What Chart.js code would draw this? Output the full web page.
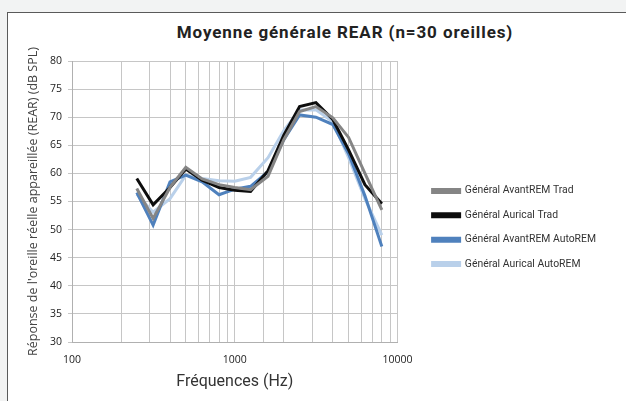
<!DOCTYPE html>
<html lang="fr">
<head>
<meta charset="utf-8">
<title>Moyenne générale REAR</title>
<script src="https://cdn.jsdelivr.net/npm/chart.js@4"></script>
<style>
  html, body { margin: 0; padding: 0; }
  body { width: 626px; height: 401px; background: #f2f3f3; overflow: hidden; position: relative; }
  #frame { position: absolute; left: 7px; top: 12px; width: 700px; height: 420px; background: #fff; border: 1px solid #5a5a5a; }
  #title { position: absolute; left: 0; width: 690px; top: 22px; text-align: center;
           font: bold 17px Roboto, sans-serif; letter-spacing: 0.9px; color: #222; }
  #wrap { position: absolute; left: 0; top: 0; width: 626px; height: 401px; }
</style>
</head>
<body>
<div id="frame"></div>
<div id="title">Moyenne générale REAR (n=30 oreilles)</div>
<div id="wrap"><canvas id="chart" width="626" height="401"></canvas></div>
<script>
"use strict";

// Third-octave frequencies (Hz) and mean REAR values (dB SPL).
const freqs = [250, 315, 400, 500, 630, 800, 1000, 1250, 1600, 2000, 2500, 3150, 4000, 5000, 6300, 8000];
const avantRemTrad = [57.3, 52.0, 57.5, 61.1, 59.0, 58.0, 57.5, 57.1, 59.5, 66.0, 71.0, 71.9, 69.9, 66.4, 60.0, 53.5];
const auricalTrad = [59.1, 54.4, 57.5, 60.8, 58.8, 57.5, 57.0, 56.8, 60.5, 66.8, 71.9, 72.6, 69.6, 64.2, 58.0, 54.6];
const avantRemAuto = [56.6, 50.8, 58.5, 59.7, 58.5, 56.2, 57.2, 57.7, 60.3, 66.0, 70.4, 70.0, 68.7, 63.5, 56.0, 47.0];
const auricalAuto = [56.3, 53.1, 55.5, 59.7, 59.1, 58.7, 58.6, 59.3, 62.8, 67.6, 71.3, 71.3, 69.2, 62.8, 55.5, 49.0];
const xLabels = [100, 1000, 10000];

const series = [
  { label: "Général AvantREM Trad", values: avantRemTrad, color: "#858585" },
  { label: "Général Aurical Trad", values: auricalTrad, color: "#0d0d0d" },
  { label: "Général AvantREM AutoREM", values: avantRemAuto, color: "#4f81bd" },
  { label: "Général Aurical AutoREM", values: auricalAuto, color: "#b9d0ea" },
];

const grid = "#c6c6c6";
const tickFont = { family: "'Open Sans', sans-serif", size: 10.5 };

new Chart(document.getElementById("chart"), {
  type: "line",
  data: {
    datasets: series.map((s) => ({
      label: s.label,
      data: freqs.map((f, i) => ({ x: f, y: s.values[i] })),
      borderColor: s.color,
      backgroundColor: s.color,
      borderWidth: 3,
      pointRadius: 0,
      tension: 0,
    })),
  },
  options: {
    responsive: false,
    animation: false,
    devicePixelRatio: 1,
    layout: { padding: { left: 22, top: 61, right: 20, bottom: 7 } },
    plugins: {
      tooltip: { enabled: false },
      legend: {
        position: "right",
        align: "center",
        maxWidth: 188,
        labels: {
          boxWidth: 27, boxHeight: 3, padding: 14,
          color: "#333", font: { family: "Roboto, sans-serif", size: 10.4 },
        },
      },
    },
    scales: {
      x: {
        type: "logarithmic",
        min: 100, max: 10000,
        grid: { color: grid, drawTicks: false },
        border: { color: "#b0b0b0" },
        ticks: {
          autoSkip: false, maxRotation: 0, padding: 12,
          color: "#222", font: tickFont,
          callback: (v) => (xLabels.includes(v) ? String(v) : ""),
        },
        title: {
          display: true, text: "Fréquences (Hz)", color: "#333",
          font: { family: "Roboto, sans-serif", size: 16 }, padding: 2,
        },
        afterFit: (s) => { s.height = 52; },
      },
      y: {
        min: 30, max: 80,
        grid: { color: grid, tickLength: 4 },
        border: { color: "#b0b0b0" },
        ticks: { stepSize: 5, padding: 6, color: "#222", font: tickFont },
        title: {
          display: true, text: "Réponse de l'oreille réelle appareillée (REAR) (dB SPL)",
          color: "#444", font: { family: "'Open Sans', sans-serif", size: 12.5 }, padding: 4,
        },
        afterFit: (s) => { s.width = 50; },
      },
      // blank axis: keeps a gap between the plot and the legend
      gap: {
        position: "right", display: true,
        grid: { display: false }, border: { display: false },
        ticks: { display: false },
        afterFit: (s) => { s.width = 21; },
      },
    },
  },
});
</script>
</body>
</html>
